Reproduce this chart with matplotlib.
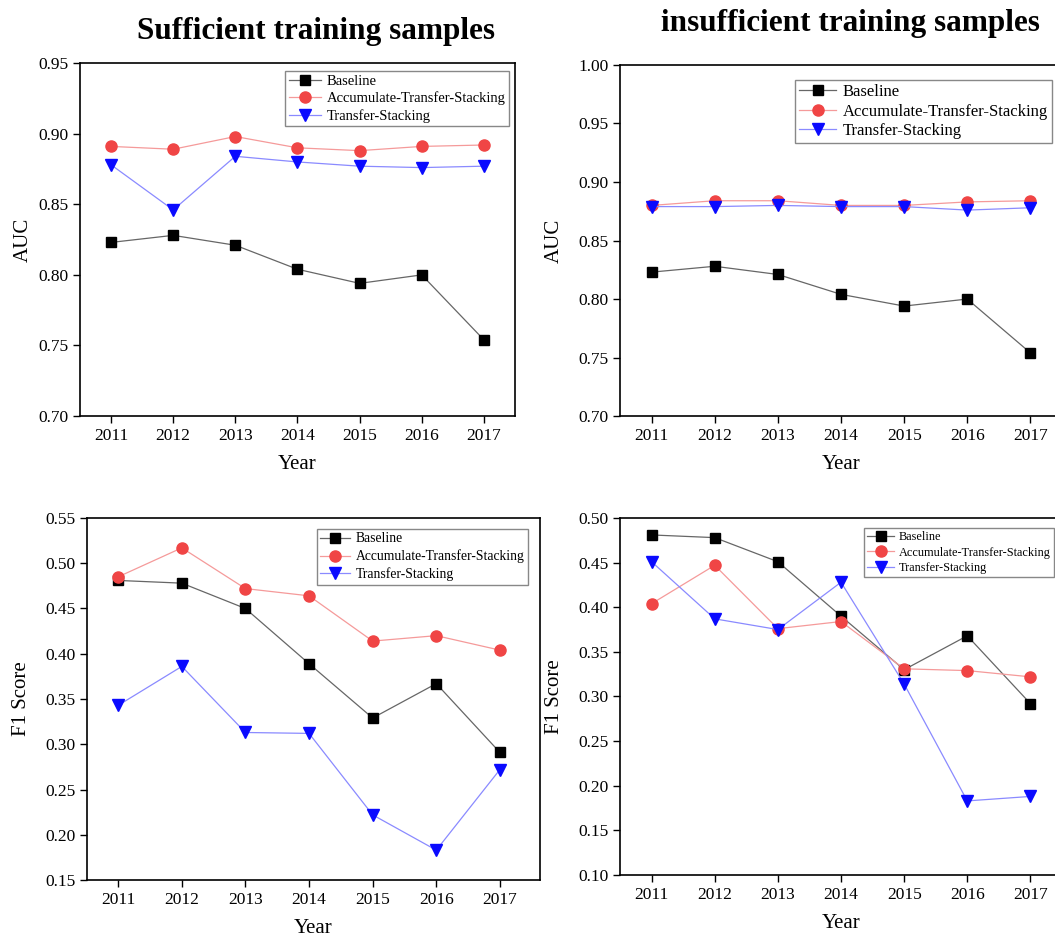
import matplotlib
matplotlib.use("Agg")
import matplotlib.pyplot as plt

plt.rcParams['font.family'] = ['Liberation Serif', 'DejaVu Serif']

years = [2011, 2012, 2013, 2014, 2015, 2016, 2017]
series_names = ["Baseline", "Accumulate-Transfer-Stacking", "Transfer-Stacking"]

# AUC, sufficient samples
auc_suff_base = [0.823, 0.828, 0.821, 0.804, 0.794, 0.800, 0.754]
auc_suff_ats = [0.891, 0.889, 0.898, 0.890, 0.888, 0.891, 0.892]
auc_suff_ts = [0.878, 0.846, 0.884, 0.880, 0.877, 0.876, 0.877]

# AUC, insufficient samples
auc_insuff_base = [0.823, 0.828, 0.821, 0.804, 0.794, 0.800, 0.754]
auc_insuff_ats = [0.880, 0.884, 0.884, 0.880, 0.880, 0.883, 0.884]
auc_insuff_ts = [0.879, 0.879, 0.880, 0.879, 0.879, 0.876, 0.878]

# F1, sufficient samples
f1_suff_base = [0.481, 0.478, 0.450, 0.389, 0.329, 0.367, 0.291]
f1_suff_ats = [0.485, 0.517, 0.472, 0.464, 0.414, 0.420, 0.404]
f1_suff_ts = [0.343, 0.386, 0.313, 0.312, 0.222, 0.183, 0.272]

# F1, insufficient samples
f1_insuff_base = [0.481, 0.478, 0.451, 0.390, 0.330, 0.368, 0.292]
f1_insuff_ats = [0.404, 0.447, 0.376, 0.384, 0.331, 0.329, 0.322]
f1_insuff_ts = [0.451, 0.387, 0.375, 0.428, 0.314, 0.183, 0.188]

auc_ticks = [0.70, 0.75, 0.80, 0.85, 0.90, 0.95]
auc_ticks_right = [0.70, 0.75, 0.80, 0.85, 0.90, 0.95, 1.00]
f1_ticks_left = [0.15, 0.20, 0.25, 0.30, 0.35, 0.40, 0.45, 0.50, 0.55]
f1_ticks_right = [0.10, 0.15, 0.20, 0.25, 0.30, 0.35, 0.40, 0.45, 0.50]

styles = [
    dict(color='#666666', marker='s', mfc='black', mec='black', ms=7),
    dict(color='#f59a9a', marker='o', mfc='#f04545', mec='#f04545', ms=8),
    dict(color='#8a8aff', marker='v', mfc='#0a0aff', mec='#0a0aff', ms=8),
]


def draw_panel(fig, rect, data, yticks, ylabel, xlim, leg_pos, leg_size,
               ylabelpad=10, legspacing=0.3):
    ax = fig.add_axes(rect)
    for vals, name, st in zip(data, series_names, styles):
        ax.plot(years, vals, lw=0.9, label=name, **st)
    ax.set_xlim(*xlim)
    ax.set_ylim(yticks[0], yticks[-1])
    ax.set_xticks(years)
    ax.set_yticks(yticks)
    ax.set_yticklabels([f"{t:.2f}" for t in yticks])
    ax.tick_params(direction='out', length=5, width=1, labelsize=12.5)
    for s in ax.spines.values():
        s.set_linewidth(1.2)
    ax.set_xlabel("Year", fontsize=15, labelpad=8)
    ax.set_ylabel(ylabel, fontsize=15, labelpad=ylabelpad)
    leg = ax.legend(loc='upper left', bbox_to_anchor=leg_pos,
                    bbox_transform=fig.transFigure, fontsize=leg_size,
                    fancybox=False, edgecolor='#888888', framealpha=1,
                    borderaxespad=0, borderpad=0.25, handlelength=2.2,
                    handletextpad=0.4, labelspacing=legspacing)
    leg.get_frame().set_linewidth(1.0)
    return ax


fig = plt.figure(figsize=(10.55, 9.35), dpi=100)

draw_panel(fig, [0.0758, 0.555, 0.4123, 0.3775],
           [auc_suff_base, auc_suff_ats, auc_suff_ts], auc_ticks, "AUC",
           (2010.5, 2017.5), (285 / 1055, 1 - 71 / 935), 10.5,
           ylabelpad=4, legspacing=0.25)
draw_panel(fig, [0.5877, 0.555, 0.4189, 0.3755],
           [auc_insuff_base, auc_insuff_ats, auc_insuff_ts], auc_ticks_right, "AUC",
           (2010.5, 2017.5), (795 / 1055, 1 - 80 / 935), 12,
           legspacing=0.2)
draw_panel(fig, [0.0825, 0.0588, 0.4293, 0.3872],
           [f1_suff_base, f1_suff_ats, f1_suff_ts], f1_ticks_left, "F1 Score",
           (2010.51, 2017.63), (317 / 1055, 1 - 529 / 935), 9.8,
           legspacing=0.3)
draw_panel(fig, [0.5877, 0.0642, 0.4189, 0.3818],
           [f1_insuff_base, f1_insuff_ats, f1_insuff_ts], f1_ticks_right, "F1 Score",
           (2010.5, 2017.5), (864 / 1055, 1 - 528 / 935), 8.8,
           legspacing=0.3)

fig.text(316 / 1055, 1 - 32 / 935, "Sufficient training samples",
         ha='center', va='center', fontsize=22.5, fontweight='bold')
fig.text(850 / 1055, 1 - 23 / 935, "insufficient training samples",
         ha='center', va='center', fontsize=22.5, fontweight='bold')

fig.savefig("out.png", dpi=100)
